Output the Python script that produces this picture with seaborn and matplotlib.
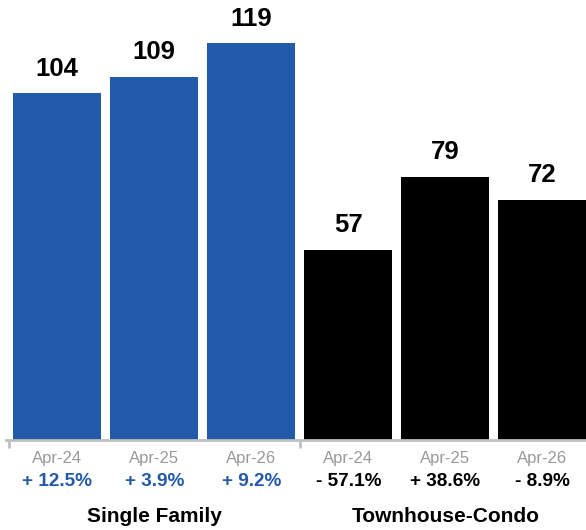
import matplotlib
matplotlib.use("Agg")
import matplotlib.pyplot as plt
import matplotlib.transforms as mtrans
import seaborn as sns
import pandas as pd

groups = ["Single Family", "Townhouse-Condo"]
periods = ["Apr-24", "Apr-25", "Apr-26"]
sf_values = [104, 109, 119]
tc_values = [57, 79, 72]
sf_changes = ["+ 12.5%", "+ 3.9%", "+ 9.2%"]
tc_changes = ["- 57.1%", "+ 38.6%", "- 8.9%"]

BLUE = "#2259a9"
BLACK = "#000000"
GRAY = "#c0c0c0"

rows = []
for g, vals, chg in [(groups[0], sf_values, sf_changes), (groups[1], tc_values, tc_changes)]:
    for p, v, c in zip(periods, vals, chg):
        rows.append({"group": g, "period": p, "value": v, "change": c})
df = pd.DataFrame(rows)
df["slot"] = [f"{r.group}|{r.period}" for r in df.itertuples()]

sns.set_theme(style="white")
plt.rcParams["font.family"] = ["Liberation Sans", "DejaVu Sans"]

fig = plt.figure(figsize=(5.86, 5.30), dpi=100)
ax = fig.add_axes([8.75 / 586, 90 / 530, 582 / 586, 1 - 90 / 530])

sns.barplot(data=df, x="slot", y="value", hue="group", palette=[BLUE, BLACK],
            dodge=False, width=0.912, legend=False, ax=ax, saturation=1, linewidth=0)

for cont in ax.containers:
    ax.bar_label(cont, fmt="%d", padding=9, fontsize=18.5, fontweight="bold", color="black")

ax.set_xlim(-0.5, 5.5)
ax.set_ylim(0, 132.0)
ax.set_xlabel("")
ax.set_ylabel("")
ax.set_yticks([])
for s in ["top", "right", "left"]:
    ax.spines[s].set_visible(False)
ax.spines["bottom"].set_color(GRAY)
ax.spines["bottom"].set_linewidth(2)
ax.spines["bottom"].set_bounds(-0.53, 5.5)
ax.set_xticks([-0.5, 2.5])
ax.set_xticklabels([])
ax.tick_params(axis="x", length=6, width=2, color=GRAY, direction="out", bottom=True)

trans = mtrans.blended_transform_factory(ax.transData, fig.transFigure)
for i, r in enumerate(df.itertuples()):
    ax.text(i, 1 - 458 / 530, r.period, transform=trans, ha="center", va="center",
            fontsize=12, color="#999999")
    ax.text(i, 1 - 482 / 530, r.change, transform=trans, ha="center", va="center",
            fontsize=13.7, fontweight="bold", color=BLUE if r.group == groups[0] else BLACK)

for gi, g in enumerate(groups):
    ax.text(1 + 3 * gi, 1 - 516 / 530, g, transform=trans, ha="center", va="center",
            fontsize=15, fontweight="bold", color="black")

fig.savefig("out.png", dpi=100)
